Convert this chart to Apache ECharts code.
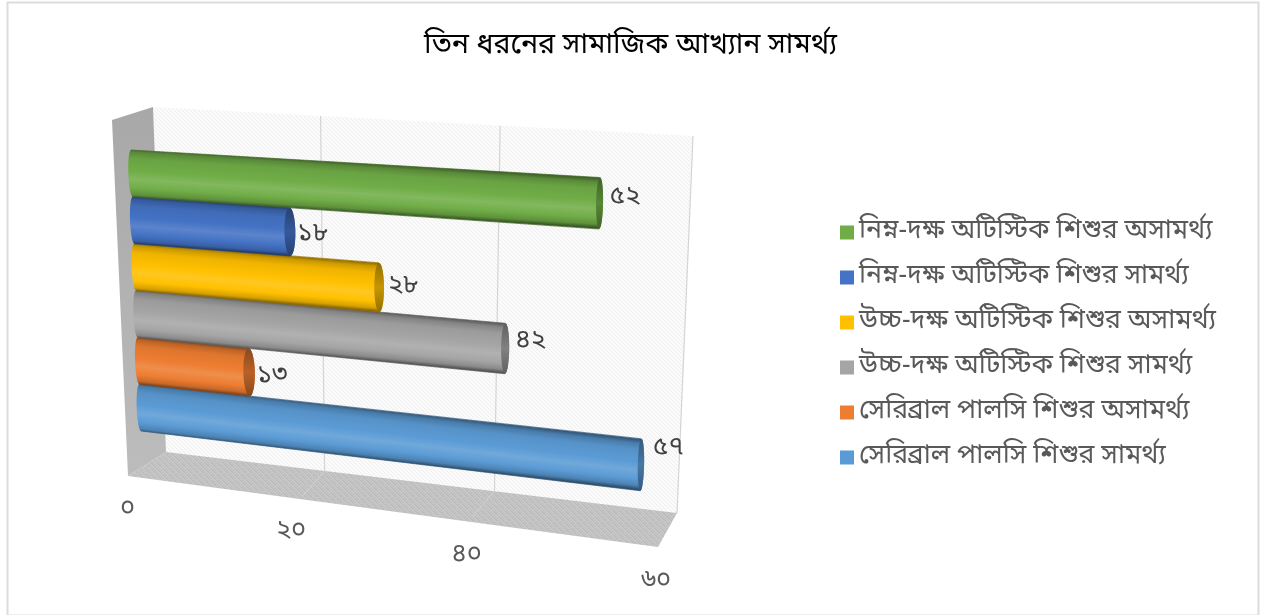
<!DOCTYPE html>
<html>
<head>
<meta charset="utf-8">
<style>
html,body{margin:0;padding:0;background:#fff}
#chart{width:1265px;height:615px}
</style>
<script src="https://cdn.jsdelivr.net/npm/echarts@6/dist/echarts.min.js"></script>
</head>
<body>
<div id="chart"></div>
<script>
// Chart content
const chartTitle = 'তিন ধরনের সামাজিক আখ্যান সামর্থ্য';
const seriesNames = [
  'সেরিব্রাল পালসি শিশুর সামর্থ্য',
  'সেরিব্রাল পালসি শিশুর অসামর্থ্য',
  'উচ্চ-দক্ষ অটিস্টিক শিশুর সামর্থ্য',
  'উচ্চ-দক্ষ অটিস্টিক শিশুর অসামর্থ্য',
  'নিম্ন-দক্ষ অটিস্টিক শিশুর সামর্থ্য',
  'নিম্ন-দক্ষ অটিস্টিক শিশুর অসামর্থ্য'
];
const seriesValues = [57, 13, 42, 28, 18, 52];
const seriesColors = ['#5b9bd5', '#ed7d31', '#a5a5a5', '#ffc000', '#4472c4', '#70ad47'];
const axisTicks = [0, 20, 40, 60];
const bengaliDigits = ['০', '১', '২', '৩', '৪', '৫', '৬', '৭', '৮', '৯'];

const FONT = "'Noto Sans Bengali','Noto Serif Bengali','Lohit Bengali','Nirmala UI','Vrinda','Noto Sans',sans-serif";
const toBengali = n => String(n).replace(/\d/g, d => bengaliDigits[d]);

// Planes of the 3D box: [top-left, top-right, bottom-right, bottom-left] and foreshortening along the value axis
const backWall = { q: [[153,107],[693,136],[677,513],[166,452]], c: 0.10 };
const barPlane = { q: [[131,150],[676,182],[668,494],[141,431]], c: 0.05 };
const labelPlane = { q: [[152,158],[702,176],[696,476],[163,441]], c: 0.05 };
const floorQuad = [[166,452],[677,513],[658,547],[128,476]];
const sideQuad = [[112,120],[153,107],[166,452],[128,476]];

function project(plane, u, v) {
  const w = u * (1 - plane.c) / (1 - plane.c * u);
  const [a, b, c, d] = plane.q;
  const tx = a[0] + (b[0] - a[0]) * w, ty = a[1] + (b[1] - a[1]) * w;
  const bx = d[0] + (c[0] - d[0]) * w, by = d[1] + (c[1] - d[1]) * w;
  return [tx + (bx - tx) * v, ty + (by - ty) * v];
}
// Axis labels run along the front edge of the floor
function tickAnchor(u) {
  const w = 1 - 0.104 * u;
  return [(127.5 + u * (656 * 0.896 - 127.5)) / w, (510 + u * (582 * 0.896 - 510)) / w];
}

function patternCanvas(size, paint) {
  const cv = document.createElement('canvas');
  cv.width = cv.height = size;
  paint(cv.getContext('2d'));
  return { image: cv, repeat: 'repeat' };
}
const wallPattern = patternCanvas(4, g => {
  g.fillStyle = '#fbfbfb'; g.fillRect(0, 0, 4, 4);
  g.fillStyle = '#eeeeee';
  g.fillRect(0, 0, 1, 1); g.fillRect(1, 1, 1, 1); g.fillRect(2, 2, 1, 1); g.fillRect(3, 3, 1, 1);
});
const floorPattern = patternCanvas(6, g => {
  g.fillStyle = '#c8c8c8'; g.fillRect(0, 0, 6, 6);
  g.fillStyle = '#bcbcbc';
  for (let i = 0; i < 6; i++) { g.fillRect(i, i, 2, 1); g.fillRect((i + 3) % 6, i, 1, 1); }
});

function rgbOf(hex) {
  const n = parseInt(hex.slice(1), 16);
  return [n >> 16 & 255, n >> 8 & 255, n & 255];
}
// Shade of a base colour: negative darkens, positive lightens
function shade(rgb, t) {
  const to = t < 0 ? 0 : 255, k = Math.abs(t);
  return 'rgb(' + rgb.map(x => Math.round(x + (to - x) * k)).join(',') + ')';
}
// Cylinder lighting from the upper edge (0) to the lower edge (1)
const lightStops = [[0, -0.42], [0.07, -0.2], [0.2, -0.06], [0.45, 0.0], [0.62, 0.13], [0.8, 0.0], [0.93, -0.16], [1, -0.48]];

// Round bar on the projected plane, with a label beside its far end
function renderBar(params, api) {
  const sys = params.coordSys;
  const value = api.value(0), band = api.value(1);
  const end = api.coord([value, band]);
  const h = api.size([0, 1])[1];
  const u = (end[0] - sys.x) / sys.width;
  const vMid = (end[1] - sys.y) / sys.height;
  const dv = h / 2 / sys.height;
  const rgb = rgbOf(seriesColors[params.seriesIndex - 1]);

  const p0t = project(barPlane, 0, vMid - dv), p0b = project(barPlane, 0, vMid + dv);
  const p1t = project(barPlane, u, vMid - dv), p1b = project(barPlane, u, vMid + dv);
  const rx = 6.5 - 3.5 * u, bulge = 3.5;

  const c0 = [(p0t[0] + p0b[0]) / 2, (p0t[1] + p0b[1]) / 2];
  const c1 = [(p1t[0] + p1b[0]) / 2, (p1t[1] + p1b[1]) / 2];
  const a0 = [p0t[0] - c0[0], p0t[1] - c0[1]];
  const a1 = [p1t[0] - c1[0], p1t[1] - c1[1]];
  const leftAt = th => [c0[0] - a0[0] * Math.cos(th) - bulge * Math.sin(th), c0[1] - a0[1] * Math.cos(th)];
  const rightAt = th => [c1[0] - a1[0] * Math.cos(th) + rx * Math.sin(th), c1[1] - a1[1] * Math.cos(th)];

  // Outline of the body: along the top edge, round the far end, back along the lower edge, round the near end
  const body = [];
  for (let k = 0; k <= 24; k++) body.push(rightAt(k / 24 * Math.PI));
  for (let k = 24; k >= 0; k--) body.push(leftAt(k / 24 * Math.PI));

  // Lighting runs across the bar, at right angles to its axis
  const mid = [(c0[0] + c1[0]) / 2, (c0[1] + c1[1]) / 2];
  const ax = c1[0] - c0[0], ay = c1[1] - c0[1], len = Math.hypot(ax, ay);
  const nx = -ay / len, ny = ax / len;
  const half = (Math.abs(a0[1]) + Math.abs(a1[1])) / 2 * ny;
  const bodyFill = new echarts.graphic.LinearGradient(
    mid[0] - nx * half, mid[1] - ny * half, mid[0] + nx * half, mid[1] + ny * half,
    lightStops.map(([offset, t]) => ({ offset, color: shade(rgb, t) })), true);

  const children = [
    { type: 'polygon', shape: { points: body }, style: { fill: bodyFill } },
    { type: 'line', shape: { x1: p0t[0], y1: p0t[1], x2: p1t[0], y2: p1t[1] },
      style: { stroke: shade(rgb, -0.4), lineWidth: 1.2, opacity: 0.7 } },
    { type: 'line', shape: { x1: p0b[0], y1: p0b[1], x2: p1b[0], y2: p1b[1] },
      style: { stroke: shade(rgb, -0.45), lineWidth: 1.2, opacity: 0.7 } }
  ];
  // End cap
  const cap = [];
  for (let k = 0; k <= 48; k++) {
    const t = k / 48 * 2 * Math.PI;
    cap.push([c1[0] + a1[0] * Math.cos(t) + rx * Math.sin(t), c1[1] + a1[1] * Math.cos(t)]);
  }
  children.push({
    type: 'polygon', shape: { points: cap },
    style: { fill: new echarts.graphic.LinearGradient(0, 0, 0, 1, [
      { offset: 0, color: shade(rgb, -0.42) },
      { offset: 0.5, color: shade(rgb, -0.22) },
      { offset: 1, color: shade(rgb, -0.42) }
    ]) }
  });
  const lab = project(labelPlane, u, vMid);
  children.push({ type: 'text', style: {
    x: lab[0], y: lab[1], text: toBengali(value), fill: '#404040',
    font: '26px ' + FONT, align: 'center', verticalAlign: 'middle' } });
  return { type: 'group', children };
}

// Walls, floor, gridlines and value labels of the box
function renderBox(params, api) {
  const sys = params.coordSys;
  const children = [
    { type: 'polygon', shape: { points: backWall.q }, style: { fill: wallPattern } },
    { type: 'polygon', shape: { points: floorQuad }, style: { fill: floorPattern } },
    { type: 'polygon', shape: { points: sideQuad }, style: {
        fill: new echarts.graphic.LinearGradient(0, 0, 0, 1, [
          { offset: 0, color: '#a8a8a8' }, { offset: 1, color: '#bcbcbc' }
        ]) } }
  ];
  axisTicks.forEach(t => {
    const u = (api.coord([t, 0])[0] - sys.x) / sys.width;
    const top = project(backWall, u, 0), bot = project(backWall, u, 1);
    const anchor = tickAnchor(u);
    if (t > 0) {
      children.push({ type: 'line', shape: { x1: top[0], y1: top[1], x2: bot[0], y2: bot[1] },
        style: { stroke: '#d4d4d4', lineWidth: 1.2 } });
      if (t < 60) children.push({ type: 'line', shape: { x1: bot[0], y1: bot[1], x2: bot[0] - 22, y2: bot[1] + 25 },
        style: { stroke: '#d2d2d2', lineWidth: 1 } });
    }
    children.push({ type: 'text', style: {
      x: anchor[0], y: anchor[1], text: toBengali(t), fill: '#595959',
      font: '25.5px ' + FONT, align: 'center', verticalAlign: 'middle' } });
  });
  return { type: 'group', children };
}

const barSeries = seriesNames.map((name, i) => ({
  type: 'custom',
  name,
  coordinateSystem: 'cartesian2d',
  renderItem: renderBar,
  itemStyle: { color: seriesColors[i] },
  encode: { x: 0, y: 1 },
  silent: true,
  z: 3,
  data: [[seriesValues[i], i]]
}));

const chart = echarts.init(document.getElementById('chart'), null, { renderer: 'canvas' });
chart.setOption({
  animation: false,
  backgroundColor: '#ffffff',
  title: {
    text: chartTitle, left: 625.5, top: 42, textAlign: 'center', textVerticalAlign: 'middle',
    textStyle: { color: '#000000', fontSize: 28.6, fontWeight: 'normal', fontFamily: FONT }
  },
  legend: {
    data: seriesNames.slice().reverse(),
    orient: 'vertical', left: 840, top: 215.5, padding: 0,
    itemWidth: 14, itemHeight: 14, itemGap: 11, icon: 'rect',
    selectedMode: false,
    textStyle: { color: '#595959', fontSize: 26.6, fontFamily: FONT, lineHeight: 34 }
  },
  grid: { left: 128, top: 150, width: 548, height: 281 },
  xAxis: { type: 'value', min: 0, max: 60, interval: 20, show: false },
  yAxis: { type: 'category', data: seriesNames, show: false },
  graphic: [{
    type: 'rect', left: 5, top: 0, silent: true, z: -1,
    shape: { x: 0, y: 0, width: 1251, height: 613 },
    style: { fill: 'none', stroke: '#dcdcdc', lineWidth: 2 }
  }],
  series: [{
    type: 'custom', name: 'box', coordinateSystem: 'cartesian2d',
    renderItem: renderBox, silent: true, z: 1,
    encode: { x: 0, y: 1 }, data: [[0, 0]]
  }].concat(barSeries)
});
</script>
</body>
</html>
